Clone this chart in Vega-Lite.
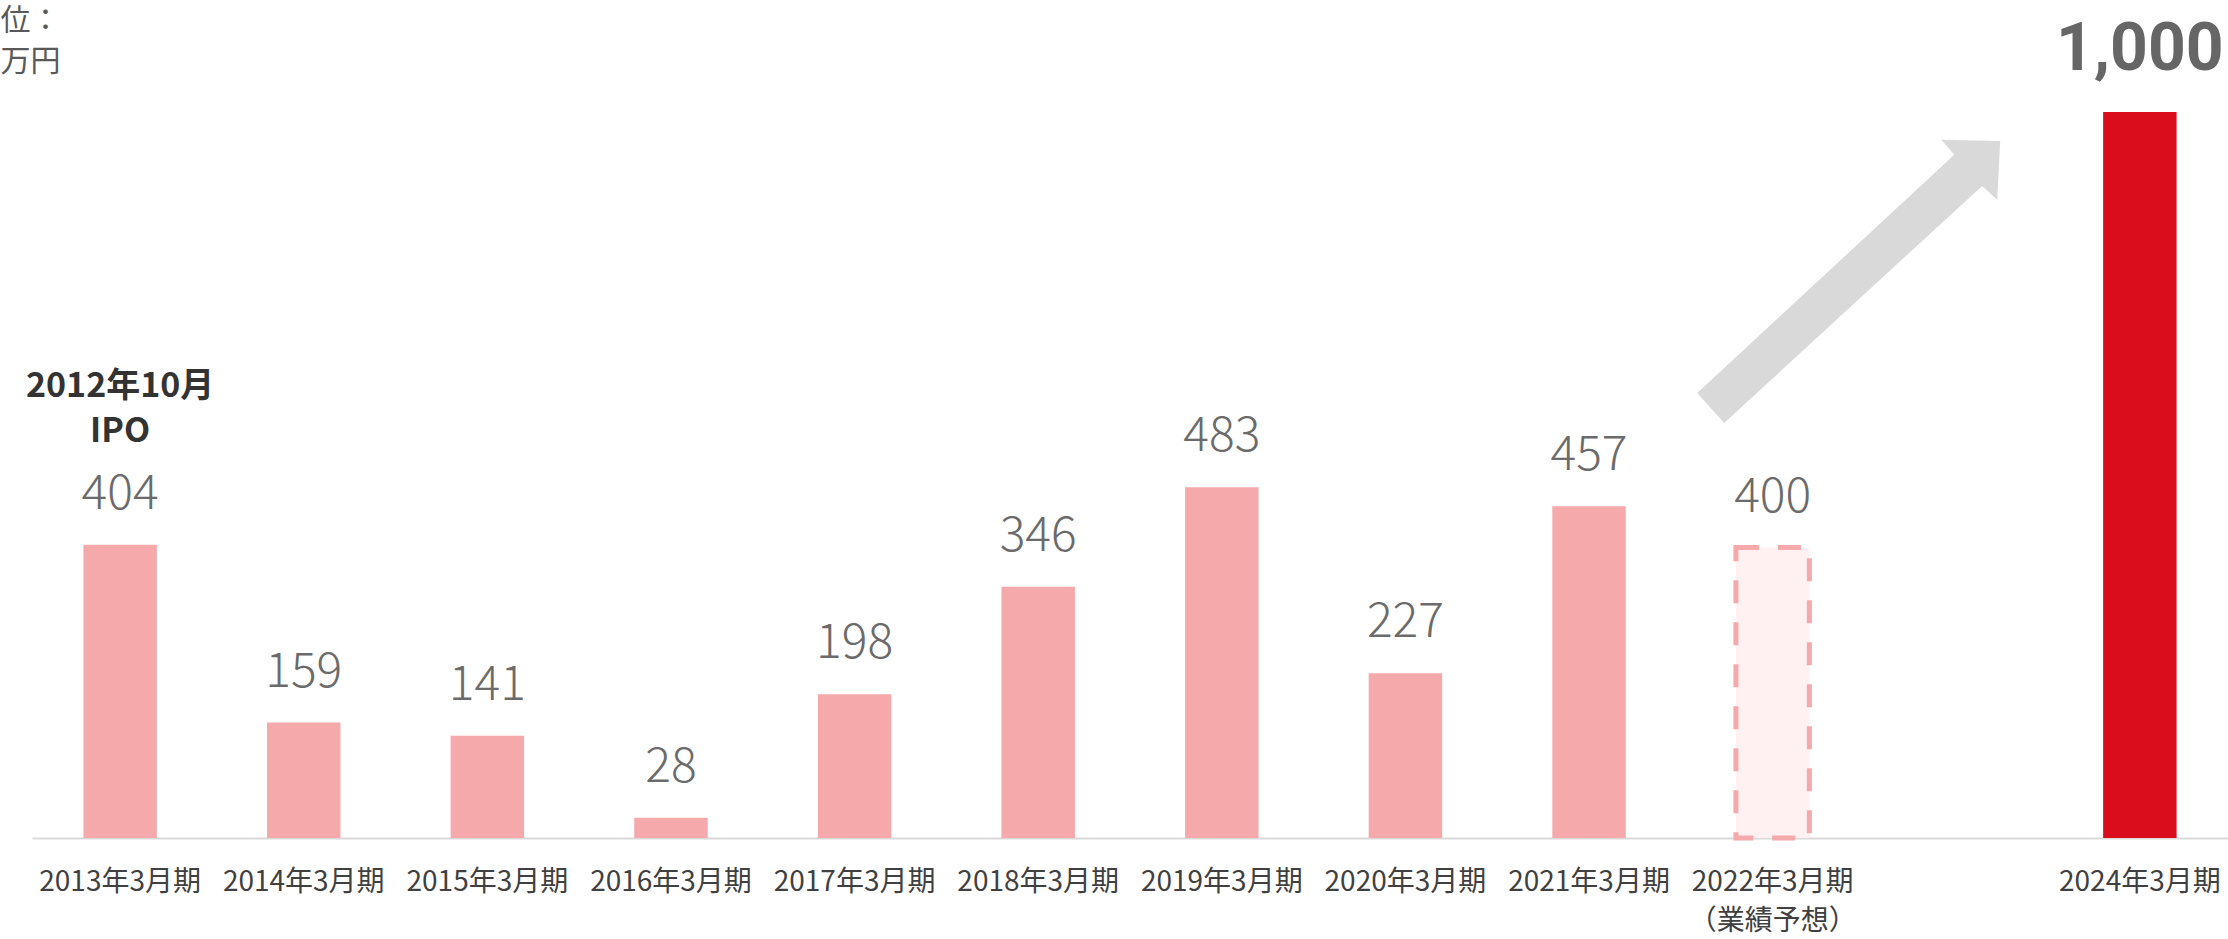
{
  "$schema": "https://vega.github.io/schema/vega-lite/v6.json",
  "autosize": {"type": "none"},
  "width": 2196,
  "height": 726,
  "padding": {"left": 32, "top": 112, "right": 0, "bottom": 101},
  "background": "white",
  "config": {"view": {"stroke": null}},
  "datasets": {
    "main": [
      {"period": "2013年3月期", "value": 404, "type": "実績", "note": "2012年10月\nIPO"},
      {"period": "2014年3月期", "value": 159, "type": "実績"},
      {"period": "2015年3月期", "value": 141, "type": "実績"},
      {"period": "2016年3月期", "value": 28, "type": "実績"},
      {"period": "2017年3月期", "value": 198, "type": "実績"},
      {"period": "2018年3月期", "value": 346, "type": "実績"},
      {"period": "2019年3月期", "value": 483, "type": "実績"},
      {"period": "2020年3月期", "value": 227, "type": "実績"},
      {"period": "2021年3月期", "value": 457, "type": "実績"},
      {"period": "2022年3月期", "value": 400, "type": "業績予想"},
      {"period": "2024年3月期", "value": 1000, "type": "目標"}
    ],
    "arrow": [
      {"period": " ", "value": 766}
    ]
  },
  "data": {"name": "main"},
  "encoding": {
    "x": {
      "field": "period",
      "type": "nominal",
      "sort": null,
      "scale": {
        "domain": ["2013年3月期", "2014年3月期", "2015年3月期", "2016年3月期", "2017年3月期", "2018年3月期", "2019年3月期", "2020年3月期", "2021年3月期", "2022年3月期", " ", "2024年3月期"],
        "paddingInner": 0.6,
        "paddingOuter": 0.28
      },
      "axis": {
        "title": null,
        "domainColor": "#D9D9D9",
        "domainWidth": 2,
        "ticks": false,
        "tickSize": 0,
        "labelAngle": 0,
        "labelPadding": 52,
        "labelBaseline": "alphabetic",
        "labelFont": "Noto Sans CJK JP",
        "labelFontSize": 28,
        "labelColor": "#404040",
        "labelLineHeight": 39,
        "labelOverlap": false,
        "labelLimit": 400,
        "labelExpr": "datum.value == '2022年3月期' ? ['2022年3月期', '（業績予想）'] : datum.value"
      }
    },
    "y": {
      "field": "value",
      "type": "quantitative",
      "scale": {"domain": [0, 1000], "nice": false, "zero": true},
      "axis": {
        "title": ["位：", "万円"],
        "titleAngle": 0,
        "titleX": -32,
        "titleY": -107,
        "titleAlign": "left",
        "titleBaseline": "top",
        "titleFont": "Noto Sans CJK JP",
        "titleFontSize": 30,
        "titleFontWeight": "normal",
        "titleLineHeight": 41,
        "titleColor": "#595959",
        "labels": false,
        "ticks": false,
        "domain": false,
        "grid": false
      }
    }
  },
  "layer": [
    {
      "transform": [{"filter": "datum.type == '実績'"}],
      "mark": {"type": "bar", "color": "#F5A9AA"}
    },
    {
      "transform": [{"filter": "datum.type == '業績予想'"}],
      "mark": {"type": "bar", "fill": "#FFF0F1", "stroke": "#F5A9AA", "strokeWidth": 5, "strokeDash": [23, 19]}
    },
    {
      "transform": [{"filter": "datum.type == '目標'"}],
      "mark": {"type": "bar", "color": "#D90D1B"}
    },
    {
      "transform": [{"filter": "datum.type != '目標'"}],
      "mark": {"type": "text", "dy": -36, "baseline": "alphabetic", "align": "center", "font": "Noto Sans CJK JP", "fontWeight": 300, "fontSize": 48, "color": "#6B6B6B"},
      "encoding": {"text": {"field": "value", "type": "quantitative", "format": ","}}
    },
    {
      "transform": [{"filter": "datum.type == '目標'"}],
      "mark": {"type": "text", "dy": -42, "baseline": "alphabetic", "align": "center", "font": "Roboto", "fontWeight": "bold", "fontSize": 66, "color": "#666666"},
      "encoding": {"text": {"field": "value", "type": "quantitative", "format": ","}}
    },
    {
      "transform": [{"filter": "isValid(datum.note)"}],
      "mark": {"type": "text", "dy": -148, "baseline": "alphabetic", "align": "center", "lineBreak": "\n", "lineHeight": 45, "font": "Noto Sans CJK JP", "fontWeight": "bold", "fontSize": 34, "color": "#333333"},
      "encoding": {"text": {"field": "note", "type": "nominal"}}
    },
    {
      "data": {"name": "arrow"},
      "mark": {
        "type": "point",
        "filled": true,
        "fill": "#D9D9D9",
        "opacity": 1,
        "strokeWidth": 0,
        "size": 90000,
        "shape": "M-1.727,0.74 L-0.013,-0.847 L-0.1,-0.947 L0.293,-0.94 L0.273,-0.547 L0.173,-0.64 L-1.547,0.94 Z"
      }
    }
  ]
}
